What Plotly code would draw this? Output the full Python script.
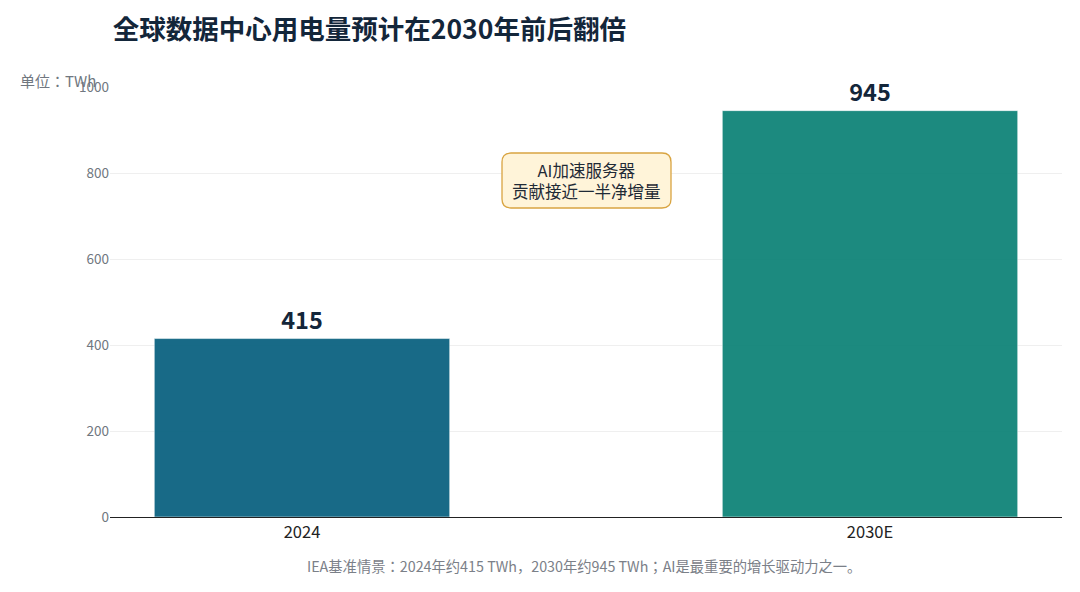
import plotly.graph_objects as go

# data
categories = ["2024", "2030E"]
values = [415, 945]
bar_colors = ["#0C6381", "#108479"]
y_ticks = [0, 200, 400, 600, 800, 1000]

title_text = "全球数据中心用电量预计在2030年前后翻倍"
unit_text = "单位：TWh"
note_text = "AI加速服务器<br>贡献接近一半净增量"
footer_text = "IEA基准情景：2024年约415 TWh，2030年约945 TWh；AI是最重要的增长驱动力之一。"

font_family = "Noto Sans CJK JP, Noto Sans CJK SC, Noto Sans, sans-serif"

fig = go.Figure()
fig.add_trace(go.Bar(
    x=categories,
    y=values,
    width=0.52,
    marker=dict(color=bar_colors, opacity=0.95,
                line=dict(color="rgba(255,255,255,0.5)", width=1)),
    text=[str(v) for v in values],
    textposition="outside",
    textfont=dict(size=23.5, color="#13263a", family=font_family, weight="bold"),
    cliponaxis=False,
    hoverinfo="skip",
))

# the page is drawn 8px in from the window corner (body margin)
fig.update_layout(
    width=1080, height=592,
    margin=dict(l=102, r=26, t=79, b=83),
    paper_bgcolor="white",
    plot_bgcolor="white",
    font=dict(family=font_family),
    showlegend=False,
    title=dict(text=title_text, x=0.003, xref="paper", xanchor="left",
               y=0.963, yanchor="middle",
               font=dict(size=26.5, color="#13263a", family=font_family, weight="bold")),
    xaxis=dict(range=[-0.338, 1.338], showgrid=False,
               showline=True, linecolor="#222222", linewidth=1.3,
               tickfont=dict(size=16.5, color="#222222"), ticks=""),
    yaxis=dict(range=[0, 1000], tickvals=y_ticks, showgrid=True,
               gridcolor="#efefef", gridwidth=1, zeroline=False,
               tickfont=dict(size=13.5, color="#707780"), ticks=""),
)

# rounded callout box (screen pixels -> paper coords)
x0, x1, y0, y1, r = 502, 671, 153, 208, 9
def px(x):
    return (x - 110) / 952
def py(y):
    return (517 - y) / 430
path = (f"M {px(x0 + r)},{py(y0)} L {px(x1 - r)},{py(y0)} "
        f"Q {px(x1)},{py(y0)} {px(x1)},{py(y0 + r)} L {px(x1)},{py(y1 - r)} "
        f"Q {px(x1)},{py(y1)} {px(x1 - r)},{py(y1)} L {px(x0 + r)},{py(y1)} "
        f"Q {px(x0)},{py(y1)} {px(x0)},{py(y1 - r)} L {px(x0)},{py(y0 + r)} "
        f"Q {px(x0)},{py(y0)} {px(x0 + r)},{py(y0)} Z")
fig.add_shape(type="path", path=path, xref="paper", yref="paper",
              fillcolor="#FFF4D9", line=dict(color="#D9A441", width=1.3))
fig.add_annotation(text=note_text, xref="paper", yref="paper",
                   x=px(586.5), y=py(180.5), xanchor="center", yanchor="middle",
                   showarrow=False, font=dict(size=16.5, color="#1f2a36"), align="center")

fig.add_annotation(text=unit_text, xref="paper", yref="paper",
                   x=px(18), y=py(80), xanchor="left", yanchor="middle",
                   showarrow=False, font=dict(size=15, color="#707780"))

fig.add_annotation(text=footer_text, xref="paper", yref="paper",
                   x=px(584), y=py(565), xanchor="center", yanchor="middle",
                   showarrow=False, font=dict(size=14.3, color="#7b8088"))

fig.write_html("out.html")
